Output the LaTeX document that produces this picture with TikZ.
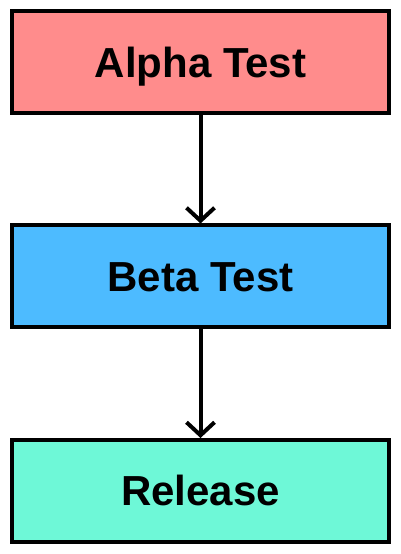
\documentclass[tikz,border=0pt]{standalone}
\usepackage{fontspec}
\setmainfont{Liberation Sans}
\usetikzlibrary{arrows.meta}
\definecolor{alphacol}{RGB}{255,140,140}
\definecolor{betacol}{RGB}{77,187,255}
\definecolor{relcol}{RGB}{110,248,215}
\begin{document}
\begin{tikzpicture}[x=1pt,y=1pt,
  stage/.style={draw=black, line width=4pt, minimum width=377pt, minimum height=102pt,
    inner sep=0pt, text height=30pt, text depth=0pt, font=\fontsize{42}{50}\selectfont\bfseries},
  flow/.style={line width=4pt, -{Straight Barb[length=13pt,width=28pt,line width=4pt]}}]
\useasboundingbox (0,0) rectangle (400,554);
\node[stage, fill=alphacol] (alpha) at (200.5,491.5) {Alpha Test};
\node[stage, fill=betacol] (beta) at (200.5,277.5) {Beta Test};
\node[stage, fill=relcol] (rel) at (200.5,63) {Release};
\draw[flow] (alpha) -- (beta);
\draw[flow] (beta) -- (rel);
\end{tikzpicture}
\end{document}
